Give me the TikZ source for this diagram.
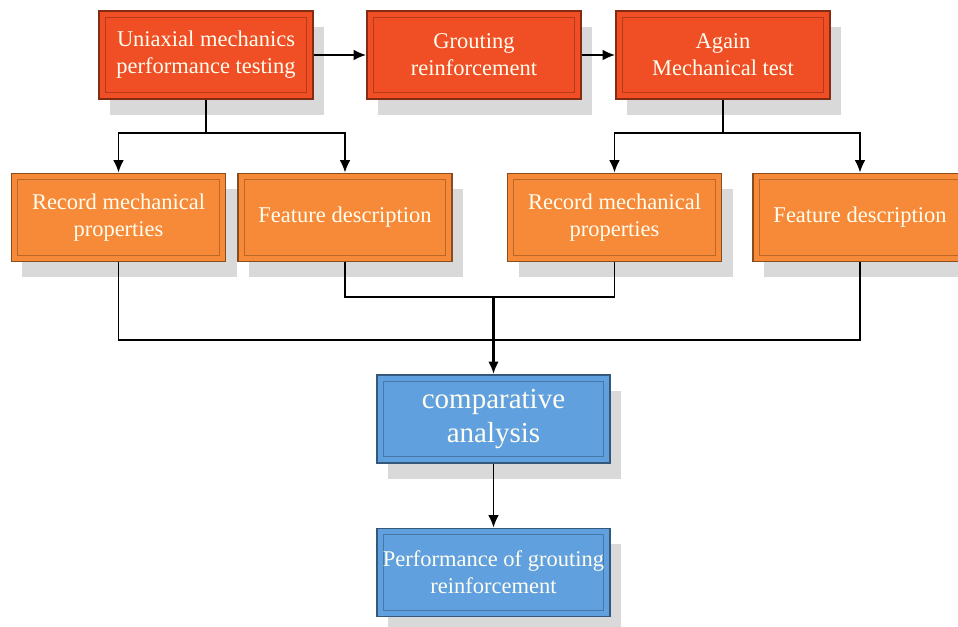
\documentclass[tikz,border=0pt]{standalone}
\usepackage{fontspec}
\setmainfont{Liberation Serif}
\usepackage{tikz}
\usetikzlibrary{arrows,shapes,positioning,shadows}
\usetikzlibrary{arrows.meta}
\usetikzlibrary{calc}

\definecolor{topred}{RGB}{240,78,36}
\definecolor{midorange}{RGB}{246,138,56}
\definecolor{lowblue}{RGB}{96,160,222}

\begin{document}
\begin{tikzpicture}[
  box/.style={rectangle, fill=#1, draw=#1!55!black, line width=1.1pt,
    minimum width=4.28cm, minimum height=1.76cm, align=center,
    text=white!94!yellow, font=\fontsize{12.8}{15.3}\selectfont,
    drop shadow={shadow xshift=0.22cm, shadow yshift=-0.32cm, opacity=0.3, fill=gray},
    path picture={\draw[#1!75!black, line width=0.7pt]
      ([shift={(3.5pt,3.5pt)}]path picture bounding box.south west) rectangle
      ([shift={(-3.5pt,-3.5pt)}]path picture bounding box.north east);}},
  arr/.style={-{Latex[length=7pt,width=6pt]}, line width=0.8pt},
  wire/.style={line width=0.8pt}]

  \useasboundingbox (0,0) rectangle (19.16,-12.54);

  % Nodes
  \node[box=topred] (uniax) at (4.12,-1.10) {Uniaxial mechanics\\performance testing};
  \node[box=topred] (grout) at (9.48,-1.10) {Grouting\\reinforcement};
  \node[box=topred] (again) at (14.46,-1.10) {Again\\Mechanical test};

  \node[box=midorange] (recA) at (2.37,-4.35) {Record mechanical\\properties};
  \node[box=midorange] (featA) at (6.90,-4.35) {Feature description};
  \node[box=midorange] (recB) at (12.29,-4.35) {Record mechanical\\properties};
  \node[box=midorange] (featB) at (17.20,-4.35) {Feature description};

  \node[box=lowblue, minimum width=4.66cm, font=\fontsize{16.5}{19.2}\selectfont]
    (compar) at (9.87,-8.38) {comparative\\analysis};
  \node[box=lowblue, minimum width=4.66cm] (perf) at (9.87,-11.45) {Performance of grouting\\reinforcement};

  % Bus points
  \coordinate (topbus) at (0,-2.66);
  \coordinate (midbus) at (0,-5.94);
  \coordinate (lowbus) at (0,-6.80);

  % Edges along the top row
  \draw[arr] (uniax) -- (grout);
  \draw[arr] (grout) -- (again);

  % Split to the records
  \draw[wire] (uniax.south) -- (uniax.south |- topbus);
  \draw[arr] (uniax.south |- topbus) -| (recA.north);
  \draw[arr] (uniax.south |- topbus) -| (featA.north);
  \draw[wire] (again.south) -- (again.south |- topbus);
  \draw[arr] (again.south |- topbus) -| (recB.north);
  \draw[arr] (again.south |- topbus) -| (featB.north);

  % Gather into the analysis
  \draw[wire] (recA.south) -- (recA.south |- lowbus) -- (featB.south |- lowbus) -- (featB.south);
  \draw[wire] (featA.south) -- (featA.south |- midbus) -- (recB.south |- midbus) -- (recB.south);
  \draw[arr, line width=1.4pt] (compar.north |- midbus) -- (compar.north);
  \draw[arr] (compar) -- (perf);

\end{tikzpicture}
\end{document}
